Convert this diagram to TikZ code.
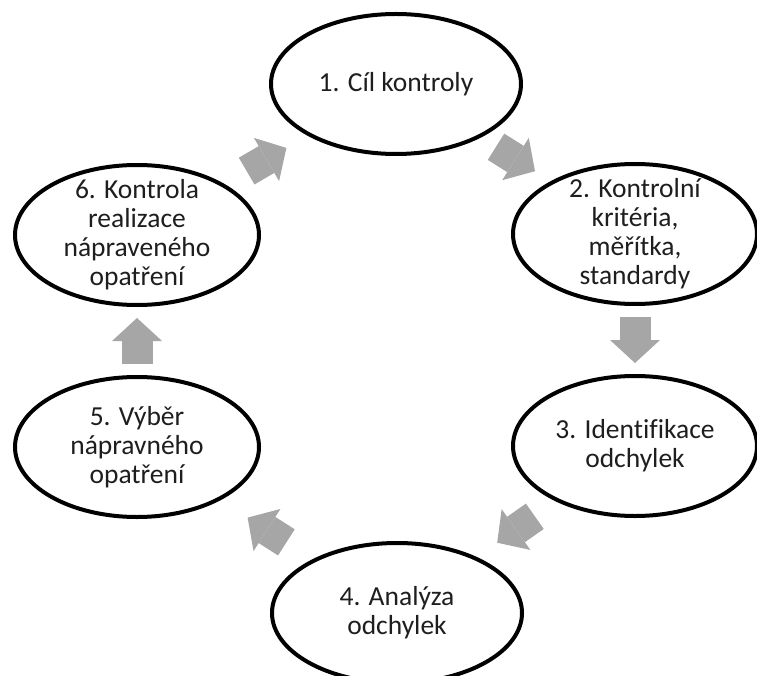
\documentclass[tikz,border=0pt]{standalone}
\usepackage{fontspec}
\setmainfont{Carlito}[Ligatures=NoCommon]
\usetikzlibrary{shapes.geometric,arrows.meta,calc}
\definecolor{arrowgray}{RGB}{166,166,166}
\definecolor{textgray}{RGB}{30,30,30}

\begin{document}
\begin{tikzpicture}[x=1pt,y=-1pt]
    \tikzset{vertex/.style = {shape=ellipse,draw,line width=4pt,fill=white,minimum width=244pt,minimum height=140pt,inner sep=0pt}}
    \tikzset{wide/.style = {minimum width=250pt}}
    \tikzset{caption/.style = {align=center,inner sep=0pt,text=textgray,font=\fontsize{27.5}{29}\selectfont}}
    \tikzset{edge/.style = {line width=31pt,draw=arrowgray,-{Triangle[width=50pt,length=23pt,line width=0pt]}}}
    \useasboundingbox (0,0) rectangle (757,676);
    % vertices
    \node[vertex,wide] (1) at (396,84) {};
    \node[vertex] (2) at (635,234) {};
    \node[vertex] (3) at (635,446) {};
    \node[vertex,wide] (4) at (397,613) {};
    \node[vertex] (5) at (137,447) {};
    \node[vertex] (6) at (137,235) {};
    % texts
    \node[caption] (t1) at (1) {1. Cíl kontroly};
    \node[caption] (t2) at (2) {2. Kontrolní\\kritéria,\\měřítka,\\standardy};
    \node[caption] (t3) at (3) {3. Identifikace\\odchylek};
    \node[caption] (t4) at (4) {4. Analýza\\odchylek};
    \node[caption] (t5) at (5) {5. Výběr\\nápravného\\opatření};
    \node[caption] (t6) at (6) {6. Kontrola\\realizace\\nápraveného\\opatření};
    %edges
    \coordinate (m12) at ($(1)!0.5!(2)$);
    \coordinate (m23) at ($(2)!0.5!(3)$);
    \coordinate (m34) at ($(3)!0.5!(4)$);
    \coordinate (m45) at ($(4)!0.5!(5)$);
    \coordinate (m56) at ($(5)!0.5!(6)$);
    \coordinate (m61) at ($(6)!0.5!(1)$);
    \draw[edge] ($(m12)!23pt!(1)$) -- ($(m12)!23pt!(2)$);
    \draw[edge] ($(m23)!23pt!(2)$) -- ($(m23)!23pt!(3)$);
    \draw[edge] ($(m34)!23pt!(3)$) -- ($(m34)!23pt!(4)$);
    \draw[edge] ($(m45)!23pt!(4)$) -- ($(m45)!23pt!(5)$);
    \draw[edge] ($(m56)!23pt!(5)$) -- ($(m56)!23pt!(6)$);
    \draw[edge] ($(m61)!23pt!(6)$) -- ($(m61)!23pt!(1)$);
\end{tikzpicture}
\end{document}
